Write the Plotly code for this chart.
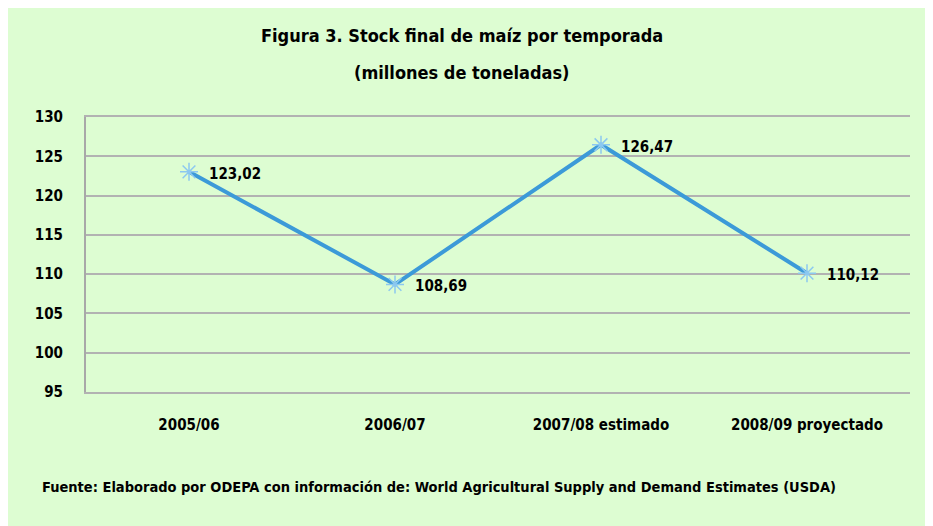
import plotly.graph_objects as go

categories = ["2005/06", "2006/07", "2007/08 estimado", "2008/09 proyectado"]
values = [123.02, 108.69, 126.47, 110.12]
labels = ["123,02", "108,69", "126,47", "110,12"]
y_ticks = [95, 100, 105, 110, 115, 120, 125, 130]

FONT = "Liberation Sans Narrow, DejaVu Sans Condensed, Arial Narrow, sans-serif"
BG = "#DDFDD2"
GRID = "#B2B2B2"

fig = go.Figure()
fig.add_trace(go.Scatter(
    x=categories, y=values, mode="lines+markers",
    line=dict(color="#3C9AD8", width=4),
    marker=dict(symbol="asterisk-open", size=15, color="#8CC8F0",
                line=dict(color="#8CC8F0", width=1.5)),
    cliponaxis=False, showlegend=False,
))

annotations = [
    dict(x=c, y=v, text="<b>" + t + "</b>", xref="x", yref="y", xanchor="left",
         xshift=18, yshift=-2, showarrow=False,
         font=dict(family=FONT, size=15, color="black"))
    for c, v, t in zip(categories, values, labels)
]
annotations += [
    dict(text="<b>Figura 3. Stock final de maíz por temporada</b>", xref="paper", yref="paper",
         x=0.456, y=1.0, yanchor="middle", yshift=82, showarrow=False,
         font=dict(family=FONT, size=18)),
    dict(text="<b>(millones de toneladas)</b>", xref="paper", yref="paper",
         x=0.456, y=1.0, yanchor="middle", yshift=45, showarrow=False,
         font=dict(family=FONT, size=18)),
    dict(text="<b>Fuente: Elaborado por ODEPA con información de: World Agricultural Supply and Demand Estimates (USDA)</b>",
         xref="paper", yref="paper", x=0, xanchor="left", xshift=-46,
         y=0, yanchor="middle", yshift=-95, showarrow=False,
         font=dict(family=FONT, size=14.5)),
]

fig.update_layout(
    width=925, height=518,
    margin=dict(l=78, r=23, t=109, b=134),
    paper_bgcolor=BG, plot_bgcolor=BG,
    font=dict(family=FONT, color="black"),
    xaxis=dict(type="category", range=[-0.5, 3.5], showgrid=False,
               showline=True, mirror=True, linecolor=GRID, linewidth=2,
               zeroline=False, ticks="",
               tickfont=dict(family=FONT, size=15, color="black", weight="bold"),
               ticklabelstandoff=18),
    yaxis=dict(range=[95, 130], tickvals=y_ticks, showgrid=True,
               gridcolor=GRID, gridwidth=2, zeroline=False,
               showline=True, linecolor="#A8A8A8", linewidth=2,
               ticks="", tickfont=dict(family=FONT, size=15, color="black", weight="bold"),
               ticklabelstandoff=18),
    annotations=annotations,
)

fig.write_html("out.html")
